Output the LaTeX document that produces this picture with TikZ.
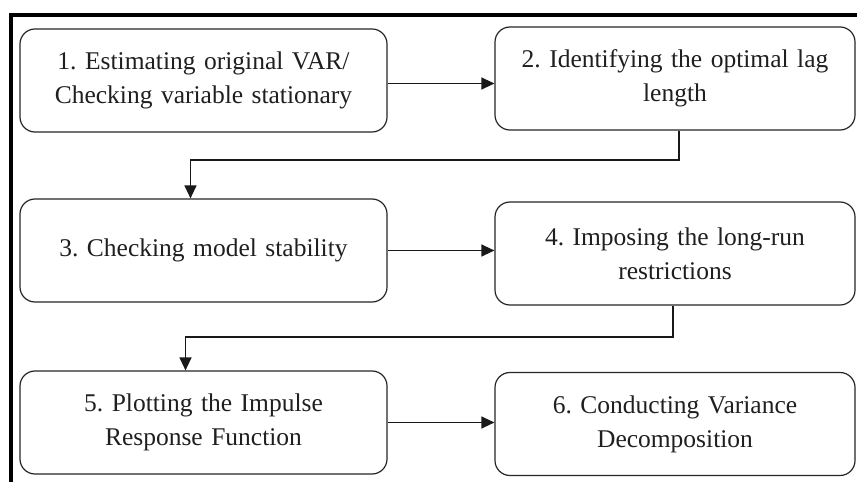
\documentclass[tikz,border=0pt]{standalone}
\usepackage{fontspec}
\setmainfont{Liberation Serif}
\usetikzlibrary{arrows.meta,calc}
\tikzset{
  stepbox/.style={draw=black!85, line width=1.2bp, rounded corners=15bp, rectangle,
    minimum height=103bp, align=center, inner sep=0pt,
    font=\fontsize{25.5bp}{34bp}\selectfont\frenchspacing, text=black!88},
  leftbox/.style={stepbox, minimum width=367bp, text width=345bp},
  rightbox/.style={stepbox, minimum width=360bp, text width=345bp},
  conn/.style={draw=black!90, line width=1.3bp, -{Triangle[length=13bp,width=12bp]}},
  frame/.style={line width=3.5bp, black}
}
\begin{document}
\begin{tikzpicture}[x=1bp,y=-1bp]
\useasboundingbox (0,0) rectangle (857,482);
\fill[white] (0,0) rectangle (857,482);
\draw[frame] (9.5,15) -- (857,15);
\draw[frame] (11,13.25) -- (11,482);

\node[leftbox]  (b1) at (203.5,80.5) {1. Estimating original VAR/\\Checking variable stationary};
\node[rightbox] (b2) at (675,78.5) {2. Identifying the optimal lag\\length};
\node[leftbox]  (b3) at (203.5,250.5) {3. Checking model stability};
\node[rightbox] (b4) at (675,253.5) {4. Imposing the long-run\\restrictions};
\node[leftbox]  (b5) at (203.5,422.5) {5. Plotting the Impulse\\Response Function};
\node[rightbox] (b6) at (675,424) {6. Conducting Variance\\Decomposition};

\draw[conn] ([yshift=-3bp]b1.east) -- ([yshift=-3bp]b1.east -| b2.west);
\draw[conn] (b3.east) -- (b3.east -| b4.west);
\draw[conn] (b5.east) -- (b5.east -| b6.west);
\draw[conn] ([xshift=4bp]b2.south) -- ++(0,29.5) -| ([xshift=-13bp]b3.north);
\draw[conn] ([xshift=-2bp]b4.south) -- ++(0,31.5) -| ([xshift=-18bp]b5.north);
\end{tikzpicture}
\end{document}
